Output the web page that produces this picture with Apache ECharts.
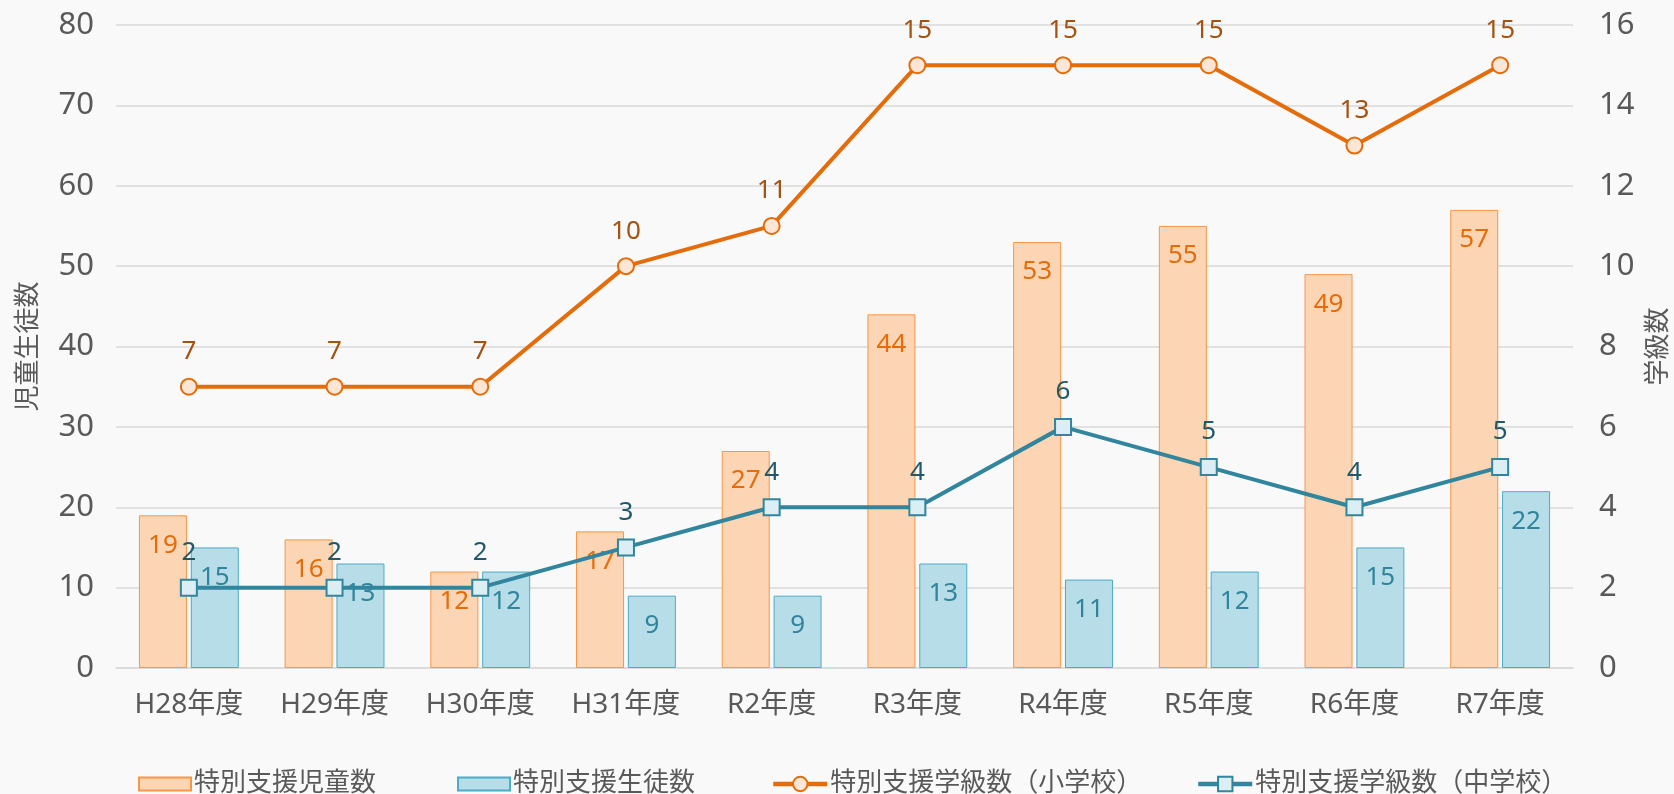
<!DOCTYPE html>
<html>
<head>
<meta charset="utf-8">
<script src="https://cdn.jsdelivr.net/npm/echarts@6/dist/echarts.min.js"></script>
<style>
  html, body { margin: 0; padding: 0; background: #f9f9f9; }
  #chart { width: 1674px; height: 794px; }
</style>
</head>
<body>
<div id="chart"></div>
<script>
'use strict';

var years = ['H28年度', 'H29年度', 'H30年度', 'H31年度', 'R2年度', 'R3年度', 'R4年度', 'R5年度', 'R6年度', 'R7年度'];
var jidouCounts = [19, 16, 12, 17, 27, 44, 53, 55, 49, 57];
var seitoCounts = [15, 13, 12, 9, 9, 13, 11, 12, 15, 22];
var classesElementary = [7, 7, 7, 10, 11, 15, 15, 15, 13, 15];
var classesJunior = [2, 2, 2, 3, 4, 4, 6, 5, 4, 5];
var seriesNames = ['特別支援児童数', '特別支援生徒数', '特別支援学級数（小学校）', '特別支援学級数（中学校）'];

var FONT = "'Noto Sans', 'Noto Sans CJK JP', sans-serif";
var TEXT_GREY = '#595959';

var myChart = echarts.init(document.getElementById('chart'));

// one legend per item so each can sit where the original has it
function legendAt(item, left, w, h) {
  return {
    data: [item],
    left: left,
    top: 766,
    itemWidth: w,
    itemHeight: h,
    itemGap: 0,
    lineStyle: { width: 4.5 },
    textStyle: { fontFamily: FONT, fontSize: 26, color: TEXT_GREY, padding: [0, 0, 0, -2] }
  };
}

var option = {
  backgroundColor: '#f9f9f9',
  animation: false,
  legend: [
    legendAt({ name: seriesNames[0], icon: 'rect' }, 133, 52, 13),
    legendAt({ name: seriesNames[1], icon: 'rect' }, 452, 52, 13),
    legendAt(seriesNames[2], 766, 54, 18),
    legendAt(seriesNames[3], 1191, 54, 18)
  ],
  grid: {
    left: 116,
    right: 101,
    top: 25,
    bottom: 126,
    outerBoundsMode: 'none'
  },
  xAxis: {
    type: 'category',
    data: years,
    axisTick: { show: false },
    axisLine: { lineStyle: { color: '#d9d9d9', width: 1.5 } },
    axisLabel: { fontFamily: FONT, fontSize: 28, color: TEXT_GREY, margin: 23 }
  },
  yAxis: [
    {
      type: 'value',
      min: 0,
      max: 80,
      interval: 10,
      name: '児童生徒数',
      nameLocation: 'middle',
      nameRotate: 90,
      nameGap: 74,
      nameTextStyle: { fontFamily: FONT, fontSize: 26, color: TEXT_GREY },
      axisLine: { show: false },
      axisTick: { show: false },
      axisLabel: { fontFamily: FONT, fontSize: 31, color: TEXT_GREY, margin: 22 },
      splitLine: { lineStyle: { color: '#d9d9d9', width: 1.5 } }
    },
    {
      type: 'value',
      min: 0,
      max: 16,
      interval: 2,
      name: '学級数',
      nameLocation: 'middle',
      nameRotate: 90,
      nameGap: 72,
      nameTextStyle: { fontFamily: FONT, fontSize: 26, color: TEXT_GREY },
      axisLine: { show: false },
      axisTick: { show: false },
      axisLabel: { fontFamily: FONT, fontSize: 31, color: TEXT_GREY, margin: 26 },
      splitLine: { show: false }
    }
  ],
  series: [
    {
      name: seriesNames[0],
      type: 'bar',
      data: jidouCounts,
      barWidth: 48,
      barGap: '8%',
      itemStyle: { color: '#fcd5b5', borderColor: '#f79646', borderWidth: 1 },
      label: {
        show: true,
        position: 'insideTop',
        distance: 17,
        fontFamily: FONT,
        fontSize: 26,
        color: '#e46c0a'
      }
    },
    {
      name: seriesNames[1],
      type: 'bar',
      data: seitoCounts,
      barWidth: 48,
      itemStyle: { color: '#b7dee8', borderColor: '#4bacc6', borderWidth: 1 },
      label: {
        show: true,
        position: 'insideTop',
        distance: 17,
        fontFamily: FONT,
        fontSize: 26,
        color: '#31849b'
      }
    },
    {
      name: seriesNames[2],
      type: 'line',
      yAxisIndex: 1,
      data: classesElementary,
      symbol: 'circle',
      symbolSize: 16,
      z: 5,
      lineStyle: { color: '#e46c0a', width: 4 },
      itemStyle: { color: '#fde6d6', borderColor: '#e46c0a', borderWidth: 2 },
      label: {
        show: true,
        position: 'top',
        distance: 13,
        fontFamily: FONT,
        fontSize: 26,
        color: '#a3520f'
      }
    },
    {
      name: seriesNames[3],
      type: 'line',
      yAxisIndex: 1,
      data: classesJunior,
      symbol: 'rect',
      symbolSize: 16,
      z: 6,
      lineStyle: { color: '#31859c', width: 4 },
      itemStyle: { color: '#daeef3', borderColor: '#31859c', borderWidth: 2 },
      label: {
        show: true,
        position: 'top',
        distance: 13,
        fontFamily: FONT,
        fontSize: 26,
        color: '#215968'
      }
    }
  ]
};

myChart.setOption(option);
</script>
</body>
</html>
